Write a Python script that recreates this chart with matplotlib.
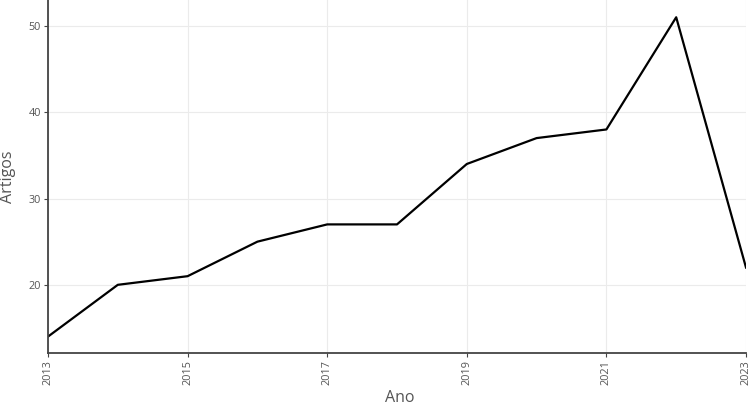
import matplotlib
matplotlib.use('Agg')
import matplotlib.pyplot as plt

anos = [2013, 2014, 2015, 2016, 2017, 2018, 2019, 2020, 2021, 2022, 2023]
artigos = [14, 20, 21, 25, 27, 27, 34, 37, 38, 51, 22]
x_ticks = [2013, 2015, 2017, 2019, 2021, 2023]
y_ticks = [20, 30, 40, 50]

plt.rcParams['font.family'] = ['Open Sans', 'DejaVu Sans']

fig = plt.figure(figsize=(7.51, 4.05), dpi=100)
ax = fig.add_axes([48 / 751, 52 / 405, 698 / 751, 353 / 405])

ax.plot(anos, artigos, color='black', linewidth=1.6)

ax.set_xlim(2013, 2023)
ax.set_ylim(12.1, 53.0)
ax.set_xticks(x_ticks)
ax.set_yticks(y_ticks)
ax.grid(True, color='#ebebeb', linewidth=0.8)
ax.set_axisbelow(True)

for side in ['top', 'right']:
    ax.spines[side].set_visible(False)
for side in ['left', 'bottom']:
    ax.spines[side].set_color('#444444')
    ax.spines[side].set_linewidth(1.3)

ax.tick_params(axis='both', colors='#444444', labelcolor='#555555',
               labelsize=7.8, length=3, width=0.8, pad=2)
ax.tick_params(axis='x', labelrotation=90)

# axis titles placed in figure coords so they sit where the reference has them
fig.text(400 / 751, 1 - 398 / 405, 'Ano', fontsize=11.5, color='#555555',
         ha='center', va='center')
fig.text(8 / 751, 1 - 177 / 405, 'Artigos', fontsize=11.5, color='#555555',
         ha='center', va='center', rotation=90)

fig.savefig('out.png', dpi=100)
